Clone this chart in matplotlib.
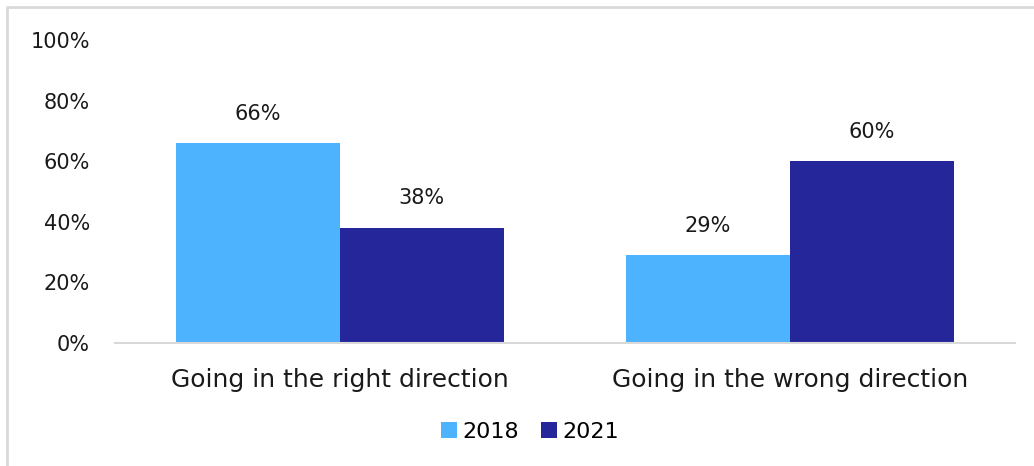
import matplotlib.pyplot as plt
import numpy as np
from matplotlib.lines import Line2D

categories = ['Going in the right direction', 'Going in the wrong direction']
series_names = ['2018', '2021']
values_2018 = [66, 29]
values_2021 = [38, 60]
colors = ['#4DB3FF', '#26269B']

plt.rcParams['font.family'] = ['DejaVu Sans']

fig = plt.figure(figsize=(10.34, 4.66), dpi=100)
ax = fig.add_axes([0.1112, 0.2639, 0.8704, 0.6503])

x = np.arange(len(categories))
w = 0.364
b1 = ax.bar(x - w / 2, values_2018, w, color=colors[0], label=series_names[0])
b2 = ax.bar(x + w / 2, values_2021, w, color=colors[1], label=series_names[1])

for bars in (b1, b2):
    for rect in bars:
        h = rect.get_height()
        ax.annotate(f'{h:.0f}%', (rect.get_x() + rect.get_width() / 2, h),
                    xytext=(0, 14), textcoords='offset points',
                    ha='center', va='bottom', fontsize=15, color='#1a1a1a')

ax.set_xlim(-0.5, 1.5)
ax.set_ylim(0, 100)
ax.set_yticks(range(0, 101, 20))
ax.set_yticklabels([f'{v}%' for v in range(0, 101, 20)])
ax.set_xticks(x)
ax.set_xticklabels(categories, fontsize=18)
ax.tick_params(axis='y', length=0, labelsize=15, colors='#1a1a1a', pad=18)
ax.tick_params(axis='x', length=0, colors='#1a1a1a', pad=18)

for s in ['top', 'right', 'left']:
    ax.spines[s].set_visible(False)
ax.spines['bottom'].set_color('#D9D9D9')
ax.spines['bottom'].set_linewidth(1.5)

ax.legend(loc='center', bbox_to_anchor=(530 / 1034, 1 - 432 / 466),
          bbox_transform=fig.transFigure, ncol=2, frameon=False,
          fontsize=16, handlelength=0.7, handleheight=0.7,
          handletextpad=0.25, columnspacing=1.0)

# chart area border (only top and left edges fall inside the picture)
fig.add_artist(Line2D([7 / 1034, 7 / 1034, 1.0], [0.0, 1 - 7 / 466, 1 - 7 / 466],
                      transform=fig.transFigure, color='#D9D9D9', linewidth=2))

fig.savefig('out.png', dpi=100)
